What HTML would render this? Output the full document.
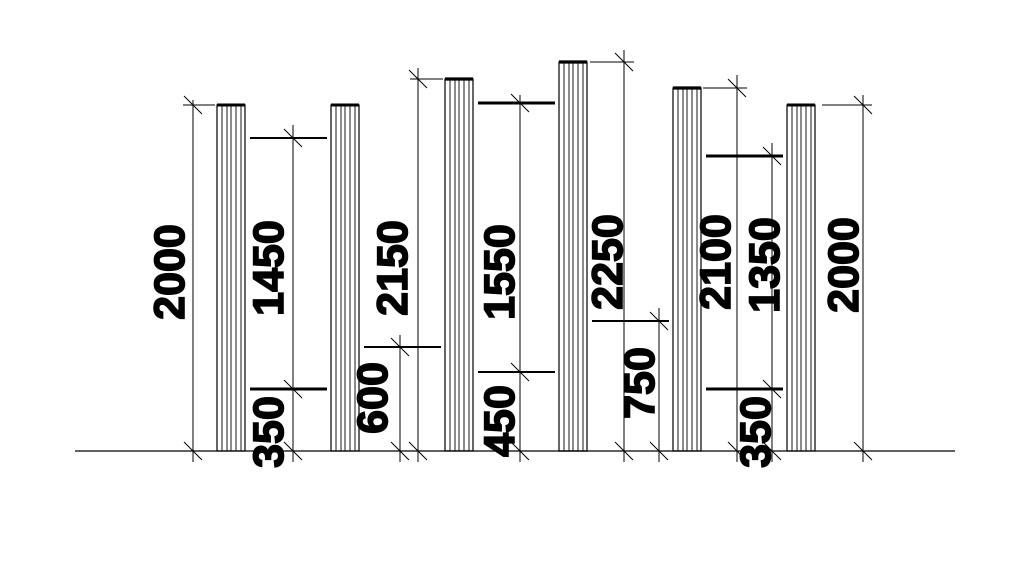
<!DOCTYPE html>
<html><head><style>body{margin:0;background:#fff}svg{display:block}</style></head><body>
<svg width="1024" height="576" viewBox="0 0 1024 576" xmlns="http://www.w3.org/2000/svg">
<defs>
<g id="post">
<rect x="0" y="0" width="28" height="346" fill="none" stroke="#000" stroke-width="1.2"/>
<line x1="5" y1="0" x2="5" y2="346" stroke="#000" stroke-width="0.9"/>
<line x1="10" y1="0" x2="10" y2="346" stroke="#000" stroke-width="0.9"/>
<line x1="14" y1="0" x2="14" y2="346" stroke="#000" stroke-width="0.9"/>
<line x1="19" y1="0" x2="19" y2="346" stroke="#000" stroke-width="0.9"/>
<line x1="24" y1="0" x2="24" y2="346" stroke="#000" stroke-width="0.9"/>
<line x1="0" y1="0" x2="28" y2="0" stroke="#000" stroke-width="3"/>
</g>
</defs>
<line x1="75" y1="451" x2="955" y2="451" stroke="#000" stroke-width="1.2"/>
<g transform="translate(217,105)"><use href="#post"/></g>
<g transform="translate(331,105)"><use href="#post"/></g>
<g transform="translate(445,79) scale(1,1.075)"><use href="#post"/></g>
<g transform="translate(559,62) scale(1,1.1243)"><use href="#post"/></g>
<g transform="translate(673,88) scale(1,1.0491)"><use href="#post"/></g>
<g transform="translate(787,105)"><use href="#post"/></g>
<g stroke="#000" stroke-width="3">
<line x1="250" y1="138" x2="327" y2="138" stroke-width="2"/>
<line x1="250" y1="389" x2="327" y2="389"/>
<line x1="364" y1="347" x2="441" y2="347" stroke-width="2"/>
<line x1="478" y1="103" x2="555" y2="103"/>
<line x1="478" y1="372" x2="555" y2="372" stroke-width="2"/>
<line x1="592" y1="321" x2="669" y2="321" stroke-width="2"/>
<line x1="706" y1="156" x2="783" y2="156"/>
<line x1="706" y1="389" x2="783" y2="389"/>
</g>
<g stroke="#000" stroke-width="1">
<line x1="193" y1="100" x2="193" y2="462"/><line x1="183" y1="105" x2="215" y2="105"/>
<line x1="293" y1="125" x2="293" y2="462"/>
<line x1="400" y1="335" x2="400" y2="462"/>
<line x1="418" y1="68" x2="418" y2="462"/><line x1="410" y1="79" x2="443" y2="79"/>
<line x1="520" y1="95" x2="520" y2="462"/>
<line x1="624" y1="50" x2="624" y2="462"/><line x1="590" y1="62" x2="634" y2="62"/>
<line x1="659" y1="308" x2="659" y2="462"/>
<line x1="737" y1="75" x2="737" y2="462"/><line x1="703" y1="88" x2="747" y2="88"/>
<line x1="772" y1="143" x2="772" y2="462"/>
<line x1="863" y1="95" x2="863" y2="462"/><line x1="822" y1="105" x2="872" y2="105"/>
</g>
<g stroke="#000" stroke-width="1">
<line x1="184" y1="96" x2="202" y2="114"/><line x1="184" y1="442" x2="202" y2="460"/>
<line x1="284" y1="129" x2="302" y2="147"/><line x1="284" y1="380" x2="302" y2="398"/><line x1="284" y1="442" x2="302" y2="460"/>
<line x1="391" y1="338" x2="409" y2="356"/><line x1="391" y1="442" x2="409" y2="460"/>
<line x1="409" y1="70" x2="427" y2="88"/><line x1="409" y1="442" x2="427" y2="460"/>
<line x1="511" y1="94" x2="529" y2="112"/><line x1="511" y1="363" x2="529" y2="381"/><line x1="511" y1="442" x2="529" y2="460"/>
<line x1="615" y1="53" x2="633" y2="71"/><line x1="615" y1="442" x2="633" y2="460"/>
<line x1="650" y1="312" x2="668" y2="330"/><line x1="650" y1="442" x2="668" y2="460"/>
<line x1="728" y1="79" x2="746" y2="97"/><line x1="728" y1="442" x2="746" y2="460"/>
<line x1="763" y1="147" x2="781" y2="165"/><line x1="763" y1="380" x2="781" y2="398"/><line x1="763" y1="442" x2="781" y2="460"/>
<line x1="854" y1="96" x2="872" y2="114"/><line x1="854" y1="442" x2="872" y2="460"/>
</g>
<g font-family="Liberation Sans, sans-serif" font-weight="bold" font-size="43" fill="#000" text-anchor="middle" stroke="#000" stroke-width="1.6">
<text transform="translate(184,272) rotate(-90)">2000</text>
<text transform="translate(283,268) rotate(-90)">1450</text>
<text transform="translate(283,432) rotate(-90)">350</text>
<text transform="translate(407,268) rotate(-90)">2150</text>
<text transform="translate(387,398) rotate(-90)">600</text>
<text transform="translate(514,272) rotate(-90)">1550</text>
<text transform="translate(514,421) rotate(-90)">450</text>
<text transform="translate(622,262) rotate(-90)">2250</text>
<text transform="translate(654,383) rotate(-90)">750</text>
<text transform="translate(730,262) rotate(-90)">2100</text>
<text transform="translate(779,265) rotate(-90)">1350</text>
<text transform="translate(770,432) rotate(-90)">350</text>
<text transform="translate(858,265) rotate(-90)">2000</text>
</g>
</svg>
</body></html>
